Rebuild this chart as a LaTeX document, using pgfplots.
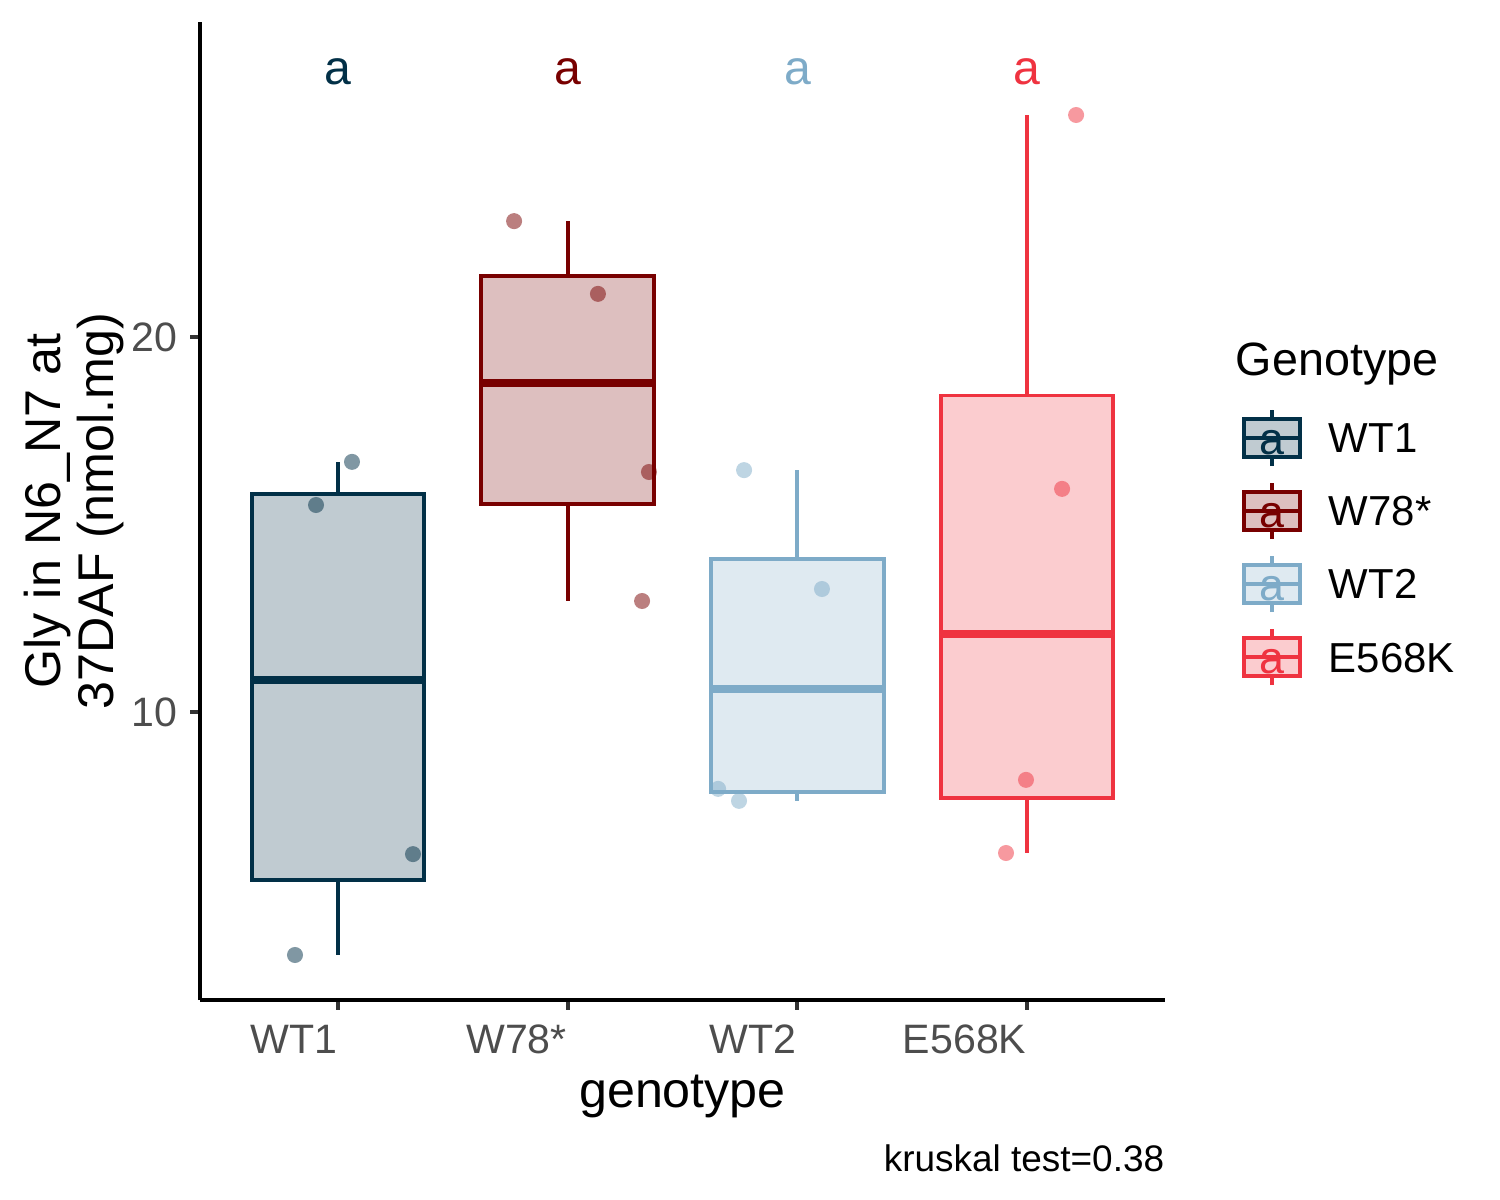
\documentclass[border=0pt]{standalone}
\usepackage{pgfplots}
\pgfplotsset{compat=1.18}
\usepgfplotslibrary{statistics}
\usepackage{fontspec}
\setmainfont{Liberation Sans}

\definecolor{cA}{HTML}{023047}
\definecolor{cB}{HTML}{780000}
\definecolor{cC}{HTML}{7EABC8}
\definecolor{cD}{HTML}{EF3340}
\definecolor{tickgray}{HTML}{4D4D4D}

\newcommand{\boxkey}[1]{%
  \draw[#1, line width=0.95pt] (6.75pt,-5.95pt) -- (6.75pt,7.55pt);
  \draw[#1, fill=#1!25, line width=0.95pt] (0pt,-3.8pt) rectangle (13.5pt,5.4pt);
  \draw[#1, line width=0.95pt] (0pt,0.8pt) -- (13.5pt,0.8pt);
  \node[text=#1, font=\fontsize{10.8}{12}\selectfont, anchor=base, inner sep=0pt] at (6.75pt,-3.1pt) {a};
}

\begin{document}
\begin{tikzpicture}
\begin{axis}[
  at={(0,0)}, anchor=south west,
  scale only axis, width=232.47pt, height=235.6pt,
  xmin=0.4, xmax=4.6, ymin=2.32, ymax=28.4,
  boxplot/draw direction=y,
  axis lines=left,
  axis line style={-, line width=1.1pt, black},
  tick align=outside, major tick length=2.4pt,
  tick style={line width=1pt, color=black!80},
  xtick={1,2,3,4}, xticklabels={WT1, W78*, WT2, E568K},
  ytick={10,20},
  /pgf/number format/assume math mode=true,
  xticklabel style={font=\fontsize{9.9}{11}\selectfont, text=tickgray, anchor=base east, inner sep=0pt, yshift=-10.6pt},
  yticklabel style={font=\fontsize{9.9}{11}\selectfont, text=tickgray, anchor=east, inner sep=0pt, xshift=-2.9pt},
  xlabel={genotype},
  xlabel style={font=\fontsize{12.1}{13}\selectfont, at={(axis description cs:0.5,-0.1104)}, anchor=base, inner sep=0pt},
  ylabel={Gly in N6\_N7 at\\37DAF (nmol.mg)},
  ylabel style={font=\fontsize{12.1}{12.8}\selectfont, align=center, at={(axis description cs:-0.0777,0.5)}, anchor=south, inner sep=0pt},
  legend style={draw=none, fill=none, inner sep=0pt, outer sep=0pt,
    at={(axis description cs:1.0798,0.6053)}, anchor=north west,
    row sep=3.15pt, font=\fontsize{10.1}{12}\selectfont,
    nodes={inner sep=0pt},
    /tikz/every odd column/.append style={column sep=6.5pt}},
  legend cell align=left,
  clip=false,
]
% WT1
\addplot[boxplot prepared={draw position=1, lower whisker=3.52, lower quartile=5.53, median=10.86, upper quartile=15.81, upper whisker=16.67, box extend=0.75, whisker extend=0, every median/.style={line width=1.9pt}},
  draw=cA, fill=cA!25, line width=0.95pt, solid, legend image code/.code={\boxkey{cA}}] coordinates {};
\addlegendentry{WT1}
\addplot[only marks, mark=*, mark size=1.93pt, color=cA, mark options={fill=cA, fill opacity=0.5, draw opacity=0}, forget plot]
  coordinates {(0.8135,3.52) (0.905,15.52) (1.0616,16.67) (1.327,6.21)};
% W78*
\addplot[boxplot prepared={draw position=2, lower whisker=12.96, lower quartile=15.54, median=18.775, upper quartile=21.635, upper whisker=23.09, box extend=0.75, whisker extend=0, every median/.style={line width=1.9pt}},
  draw=cB, fill=cB!25, line width=0.95pt, solid, legend image code/.code={\boxkey{cB}}] coordinates {};
\addlegendentry{W78*}
\addplot[only marks, mark=*, mark size=1.93pt, color=cB, mark options={fill=cB, fill opacity=0.5, draw opacity=0}, forget plot]
  coordinates {(1.767,23.09) (2.132,21.15) (2.354,16.4) (2.324,12.96)};
% WT2
\addplot[boxplot prepared={draw position=3, lower whisker=7.63, lower quartile=7.87, median=10.615, upper quartile=14.07, upper whisker=16.45, box extend=0.75, whisker extend=0, every median/.style={line width=1.9pt}},
  draw=cC, fill=cC!25, line width=0.95pt, solid, legend image code/.code={\boxkey{cC}}] coordinates {};
\addlegendentry{WT2}
\addplot[only marks, mark=*, mark size=1.93pt, color=cC, mark options={fill=cC, fill opacity=0.5, draw opacity=0}, forget plot]
  coordinates {(2.768,16.45) (3.107,13.28) (2.655,7.95) (2.746,7.63)};
% E568K
\addplot[boxplot prepared={draw position=4, lower whisker=6.24, lower quartile=7.70, median=12.07, upper quartile=18.44, upper whisker=25.92, box extend=0.75, whisker extend=0, every median/.style={line width=1.9pt}},
  draw=cD, fill=cD!25, line width=0.95pt, solid, legend image code/.code={\boxkey{cD}}] coordinates {};
\addlegendentry{E568K}
\addplot[only marks, mark=*, mark size=1.93pt, color=cD, mark options={fill=cD, fill opacity=0.5, draw opacity=0}, forget plot]
  coordinates {(4.213,25.92) (4.152,15.95) (3.995,8.19) (3.908,6.24)};
% letters
\node[text=cA, font=\fontsize{11.6}{12}\selectfont, anchor=base, inner sep=0pt] at (axis cs:1,26.72) {a};
\node[text=cB, font=\fontsize{11.6}{12}\selectfont, anchor=base, inner sep=0pt] at (axis cs:2,26.72) {a};
\node[text=cC, font=\fontsize{11.6}{12}\selectfont, anchor=base, inner sep=0pt] at (axis cs:3,26.72) {a};
\node[text=cD, font=\fontsize{11.6}{12}\selectfont, anchor=base, inner sep=0pt] at (axis cs:4,26.72) {a};
% legend title and caption
\node[font=\fontsize{11.25}{12}\selectfont, anchor=base west, inner sep=0pt] at (axis description cs:1.0725,0.639) {Genotype};
\node[font=\fontsize{8.9}{10}\selectfont, anchor=base east, inner sep=0pt] at (axis description cs:1,-0.1755) {kruskal test=0.38};
\end{axis}
\pgfresetboundingbox
\path[use as bounding box] (-48.18pt,-48.18pt) rectangle (313.17pt,240.9pt);
\end{tikzpicture}
\end{document}
